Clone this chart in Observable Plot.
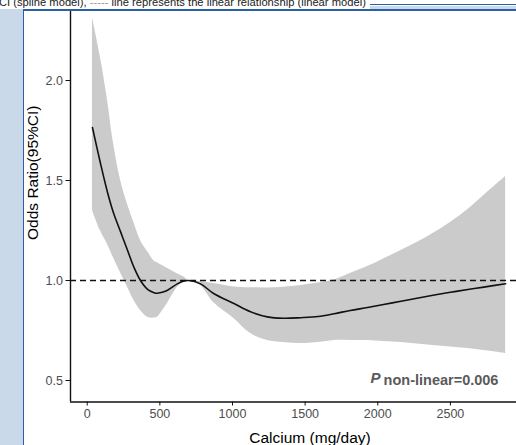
<!DOCTYPE html>
<html>
<head>
<meta charset="utf-8">
<script src="https://cdn.jsdelivr.net/npm/d3@7"></script>
<script src="https://cdn.jsdelivr.net/npm/@observablehq/plot@0.6"></script>
<style>
  html, body { margin: 0; padding: 0; }
  body { width: 516px; height: 445px; overflow: hidden; position: relative; background: #fff;
         font-family: "Liberation Sans", Arial, Helvetica, sans-serif; }
  #chart { position: absolute; left: 24px; top: -57px; width: 525px; height: 502px; z-index: 1; }
  #chart svg { max-width: none !important; width: 525px; height: 502px; display: block; }
  #topstrip { position: absolute; left: 0; top: 0; width: 516px; height: 9px; background: #fff; z-index: 2; overflow: hidden; }
  #toptext { position: absolute; left: -1px; top: -3.5px; font-size: 11.2px; line-height: 11px; color: #222; white-space: nowrap; }
  #thinline { position: absolute; left: 370px; top: 4px; width: 146px; height: 1.4px; background: #2b5fa8; z-index: 3; }
  #band { position: absolute; left: 370px; top: 5.5px; width: 146px; height: 3px; background: #c9d9ea; z-index: 3; }
  #hline { position: absolute; left: 22px; top: 8.6px; width: 494px; height: 2.2px; background: #2b5fa8; z-index: 3; }
  #leftpanel { position: absolute; left: 0; top: 9px; width: 22.6px; height: 436px; background: #c9d9ea; z-index: 3; }
  #vline { position: absolute; left: 22.6px; top: 9px; width: 1.5px; height: 436px; background: #2b5fa8; z-index: 3; }
  #chart g[aria-label="y-axis tick label"], #chart g[aria-label="x-axis tick label"] { fill: #4d4d4d; }
</style>
</head>
<body>
<div id="topstrip"><div id="toptext">CI (spline model), <span style="color:#9a9a9a">-----</span> line represents the linear relationship (linear model)</div></div>
<div id="thinline"></div>
<div id="band"></div>
<div id="hline"></div>
<div id="leftpanel"></div>
<div id="vline"></div>
<div id="chart"></div>
<script>
// Calcium intake (mg/day) grid
const calcium = [36, 90, 140, 180, 230, 280, 320, 370, 420, 460, 480, 510, 550, 620, 660, 699, 780, 870, 1010, 1120, 1240, 1350, 1470, 1590, 1700, 1810, 1930, 2040, 2160, 2270, 2380, 2500, 2620, 2730, 2880];
// Odds ratio (spline estimate)
const oddsRatio = [1.765, 1.59, 1.44, 1.34, 1.243, 1.146, 1.069, 0.996, 0.953, 0.939, 0.936, 0.94, 0.95, 0.983, 0.996, 1.0, 0.983, 0.935, 0.885, 0.845, 0.818, 0.811, 0.814, 0.82, 0.834, 0.85, 0.865, 0.88, 0.896, 0.911, 0.926, 0.941, 0.955, 0.967, 0.984];
// 95% CI bounds
const upperCI = [2.315, 2.12, 1.90, 1.69, 1.50, 1.375, 1.292, 1.195, 1.14, 1.098, 1.09, 1.078, 1.061, 1.034, 1.02, 1.0, 0.995, 0.985, 0.968, 0.964, 0.963, 0.966, 0.975, 0.987, 1.003, 1.035, 1.07, 1.108, 1.15, 1.19, 1.235, 1.29, 1.355, 1.425, 1.52];
const lowerCI = [1.35, 1.25, 1.18, 1.115, 1.038, 0.962, 0.903, 0.848, 0.815, 0.812, 0.815, 0.84, 0.882, 0.965, 0.99, 1.0, 0.975, 0.89, 0.81, 0.737, 0.70, 0.69, 0.685, 0.69, 0.70, 0.70, 0.70, 0.695, 0.69, 0.683, 0.675, 0.668, 0.66, 0.65, 0.635];

const xTicks = [0, 500, 1000, 1500, 2000, 2500];
const yTicks = [0.5, 1.0, 1.5, 2.0];
const refOR = 1;
const xDomain = [-115, 3182];
const yDomain = [0.3925, 2.685];
const xTitle = "Calcium (mg/day)";
const yTitle = "Odds Ratio(95%CI)";
const pLabel = {x: 2040, y: 0.48, p: "P", rest: "non-linear=0.006"};

const data = calcium.map((c, i) => ({calcium: c, or: oddsRatio[i], lo: lowerCI[i], hi: upperCI[i]}));

const font = "'Liberation Sans', Arial, Helvetica, sans-serif";

const chart = Plot.plot({
  width: 525,
  height: 502,
  marginLeft: 46,
  marginRight: 0,
  marginTop: 0,
  marginBottom: 43.5,
  style: {fontFamily: font, background: "transparent", overflow: "visible"},
  x: {domain: xDomain},
  y: {domain: yDomain},
  marks: [
    Plot.areaY(data, {x: "calcium", y1: "lo", y2: "hi", fill: "#cbcbcb", curve: "catmull-rom"}),
    Plot.ruleY([refOR], {stroke: "#111", strokeWidth: 1.3, strokeDasharray: "6,4"}),
    Plot.line(data, {x: "calcium", y: "or", stroke: "#111", strokeWidth: 1.6, curve: "catmull-rom"}),
    Plot.ruleX([xDomain[0]], {stroke: "#111", strokeWidth: 1.4}),
    Plot.ruleY([yDomain[0]], {stroke: "#111", strokeWidth: 1.4}),
    Plot.axisY({ticks: yTicks, tickFormat: ".1f", tickSize: 4.5, tickPadding: 3, fontSize: 12.5, label: null, stroke: "#111"}),
    Plot.axisX({ticks: xTicks, tickFormat: d => String(d), tickSize: 4, tickPadding: 3.5, fontSize: 12.5, label: null, stroke: "#111"}),
    Plot.text([xTitle], {frameAnchor: "bottom", dy: 36.5, lineAnchor: "middle", fontSize: 15.5, fill: "#000", text: d => d}),
    Plot.text([yTitle], {frameAnchor: "left", dx: -37, rotate: -90, lineAnchor: "middle", textAnchor: "middle", fontSize: 15.5, fill: "#000", text: d => d}),
    Plot.text([pLabel], {x: "x", y: "y", text: "rest", textAnchor: "start", lineAnchor: "bottom", fontSize: 14.5, fontWeight: "bold", fill: "#5a5a5a"}),
    Plot.text([pLabel], {x: "x", y: "y", text: "p", textAnchor: "end", lineAnchor: "bottom", dx: -3, dy: -2, fontSize: 15, fontWeight: "bold", fontStyle: "italic", fill: "#5a5a5a"})
  ]
});
document.getElementById("chart").appendChild(chart);
</script>
</body>
</html>
